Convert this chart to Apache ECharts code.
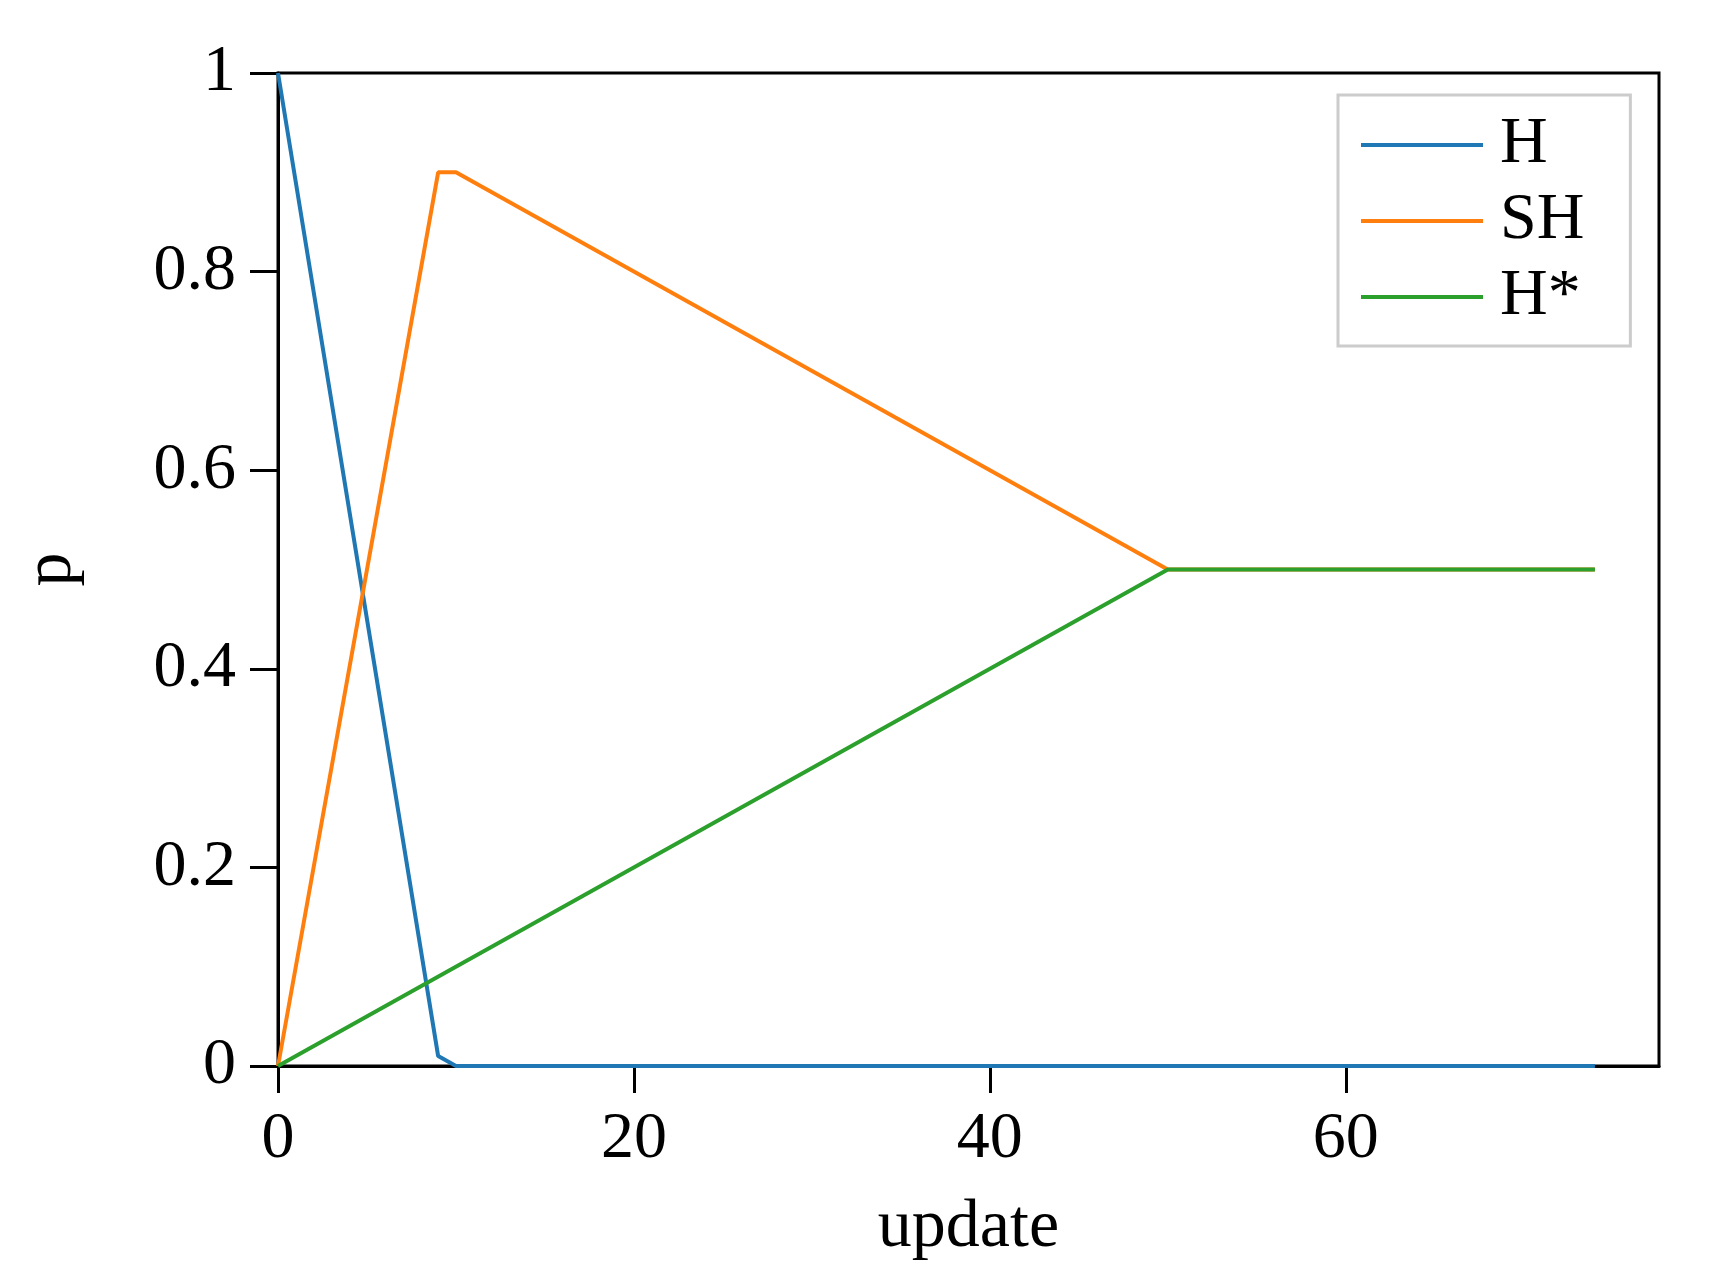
<!DOCTYPE html>
<html>
<head>
<meta charset="utf-8">
<title>p vs update</title>
<script src="https://cdn.jsdelivr.net/npm/echarts@6.0.0/dist/echarts.min.js"></script>
<style>
	html, body { margin: 0; padding: 0; background: #fff; }
	#chart { width: 1724px; height: 1279px; }
</style>
</head>
<body>
<div id="chart"></div>
<script>
	// 折线拐点 [update, p]
	const seriesNames = ['H', 'SH', 'H*'];
	const hData = [[0, 1], [9, 0.01], [10, 0], [74, 0]];
	const shData = [[0, 0], [9, 0.9], [10, 0.9], [50, 0.5], [74, 0.5]];
	const hStarData = [[0, 0], [50, 0.5], [74, 0.5]];
	const xTicks = [0, 20, 40, 60];
	const yTicks = [0, 0.2, 0.4, 0.6, 0.8, 1];

	const colors = ['#1f77b4', '#ff7f0e', '#2ca02c'];
	const font = '"Liberation Serif", "DejaVu Serif", serif';

	const myChart = echarts.init(document.getElementById('chart'));

	function lineSeries(name, data, color) {
		return {
			name: name,
			type: 'line',
			data: data,
			showSymbol: false,
			symbol: 'none',
			animation: false,
			lineStyle: { color: color, width: 4 },
			itemStyle: { color: color }
		};
	}

	const option = {
		backgroundColor: '#fff',
		textStyle: { fontFamily: font },
		grid: {
			left: 278, right: 65, top: 73, bottom: 213,
			show: true,
			borderColor: '#000',
			borderWidth: 3
		},
		legend: {
			data: seriesNames,
			orient: 'vertical',
			left: 1338,
			top: 95,
			padding: [17, 46, 16, 23],
			itemGap: 10,
			itemWidth: 122,
			itemHeight: 4,
			icon: 'rect',
			borderColor: '#cccccc',
			borderWidth: 3,
			backgroundColor: '#fff',
			textStyle: {
				fontFamily: font,
				fontSize: 66,
				lineHeight: 64,
				color: '#000',
				padding: [0, 0, 0, 12]
			}
		},
		xAxis: {
			type: 'value',
			min: 0,
			max: 77.6,
			name: 'update',
			nameLocation: 'middle',
			nameGap: 128,
			nameTextStyle: { fontFamily: font, fontSize: 68, color: '#000' },
			axisLine: { show: true, lineStyle: { color: '#000', width: 3 } },
			axisTick: { show: true, length: 27, lineStyle: { color: '#000', width: 3 }, customValues: xTicks },
			axisLabel: { fontFamily: font, fontSize: 66, color: '#000', margin: 41, customValues: xTicks },
			splitLine: { show: false }
		},
		yAxis: {
			type: 'value',
			min: 0,
			max: 1,
			name: 'p',
			nameLocation: 'middle',
			nameRotate: 90,
			nameGap: 192,
			nameTextStyle: { fontFamily: font, fontSize: 68, color: '#000' },
			axisLine: { show: true, lineStyle: { color: '#000', width: 3 } },
			axisTick: { show: true, length: 28, lineStyle: { color: '#000', width: 3 }, customValues: yTicks },
			axisLabel: { fontFamily: font, fontSize: 66, color: '#000', margin: 42, customValues: yTicks },
			splitLine: { show: false }
		},
		series: [
			lineSeries(seriesNames[0], hData, colors[0]),
			lineSeries(seriesNames[1], shData, colors[1]),
			lineSeries(seriesNames[2], hStarData, colors[2])
		]
	};

	myChart.setOption(option);
</script>
</body>
</html>
